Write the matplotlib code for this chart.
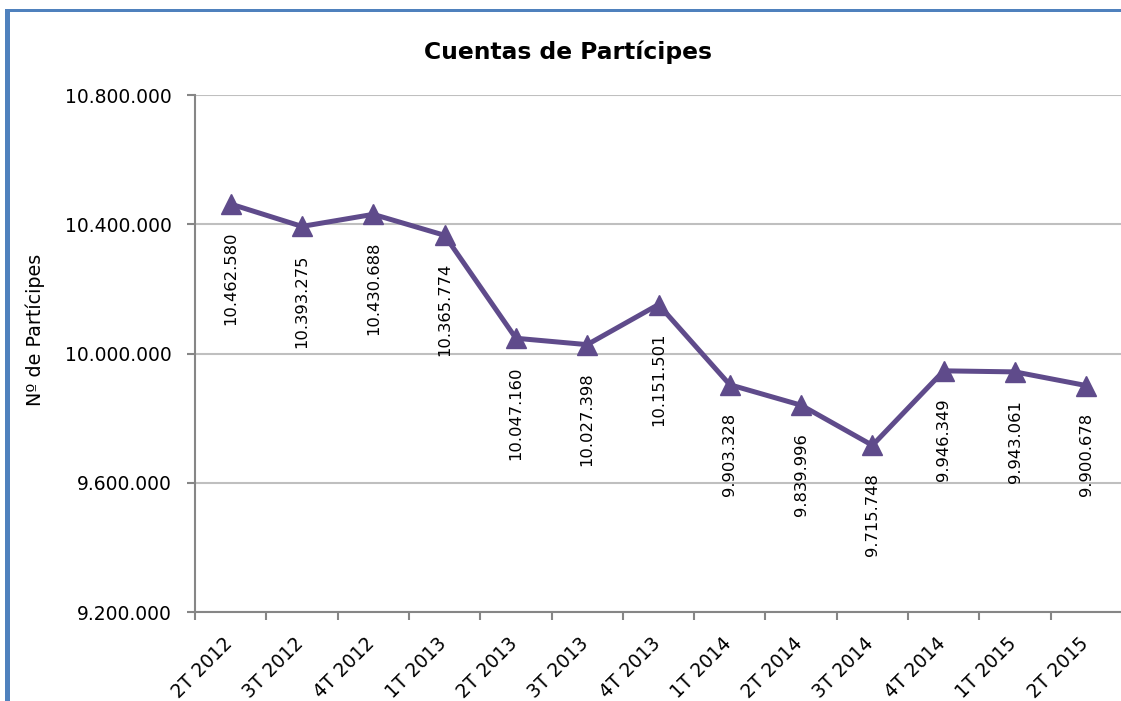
import matplotlib
matplotlib.use("Agg")
import matplotlib.pyplot as plt
import matplotlib.transforms as mtransforms
from matplotlib.patches import Rectangle
from matplotlib.ticker import FuncFormatter, FixedLocator

trimestres = ["2T 2012", "3T 2012", "4T 2012", "1T 2013", "2T 2013", "3T 2013", "4T 2013",
              "1T 2014", "2T 2014", "3T 2014", "4T 2014", "1T 2015", "2T 2015"]
participes = [10462580, 10393275, 10430688, 10365774, 10047160, 10027398, 10151501,
              9903328, 9839996, 9715748, 9946349, 9943061, 9900678]
y_ticks = [9200000, 9600000, 10000000, 10400000, 10800000]


def miles(v):
    return f"{int(round(v)):,}".replace(",", ".")


plt.rcParams['font.family'] = ['DejaVu Sans']

fig = plt.figure(figsize=(11.21, 7.01), dpi=100)
ax = fig.add_axes([195 / 1121, 1 - 612 / 701, 927 / 1121, (612 - 95) / 701])

x = list(range(len(trimestres)))
linea_color = '#5F4B8B'
ax.plot(x, participes, color=linea_color, linewidth=3.6, marker='^', markersize=14,
        markerfacecolor=linea_color, markeredgecolor=linea_color, zorder=3, clip_on=False)

for xi, v in zip(x, participes):
    ax.annotate(miles(v), (xi, v), xytext=(0, -20), textcoords='offset points',
                rotation=90, ha='center', va='top', fontsize=11.8, color='black')

ax.set_xlim(-0.5, len(trimestres) - 0.5)
ax.set_ylim(y_ticks[0], y_ticks[-1])
ax.set_yticks(y_ticks)
ax.yaxis.set_major_formatter(FuncFormatter(lambda v, p: miles(v)))
ax.tick_params(axis='y', labelsize=13.5, length=6, width=1.5, color='#868686', pad=11)
ax.yaxis.grid(True, color='#BFBFBF', linewidth=1.5)
ax.set_axisbelow(True)

ax.set_xticks(x)
ax.set_xticklabels(trimestres, rotation=45, ha='right', rotation_mode='anchor', fontsize=13.5)
ax.tick_params(axis='x', which='major', length=0, pad=16)
desplaza = mtransforms.ScaledTranslation(-8 / 100, 0, fig.dpi_scale_trans)
for lbl in ax.get_xticklabels():
    lbl.set_transform(lbl.get_transform() + desplaza)
ax.xaxis.set_minor_locator(FixedLocator([i - 0.5 for i in range(len(trimestres) + 1)]))
ax.tick_params(axis='x', which='minor', length=6, width=1.5, color='#868686')

for s in ['top', 'right']:
    ax.spines[s].set_visible(False)
for s in ['left', 'bottom']:
    ax.spines[s].set_color('#868686')
    ax.spines[s].set_linewidth(1.5)

fig.text(35 / 1121, 1 - 330 / 701, "Nº de Partícipes", rotation=90, ha='center', va='center',
         fontsize=13.8)

fig.text(568 / 1121, 1 - 52 / 701, "Cuentas de Partícipes", ha='center', va='center',
         fontsize=16.8, fontweight='bold')

# marco azul del gráfico (izquierda y arriba)
fig.add_artist(Rectangle((5 / 1121, 0), 5 / 1121, 1 - 9 / 701, transform=fig.transFigure,
                         facecolor='#4F81BD', edgecolor='none'))
fig.add_artist(Rectangle((5 / 1121, 1 - 12 / 701), 1, 3 / 701, transform=fig.transFigure,
                         facecolor='#4F81BD', edgecolor='none'))

fig.savefig("out.png", dpi=100)
